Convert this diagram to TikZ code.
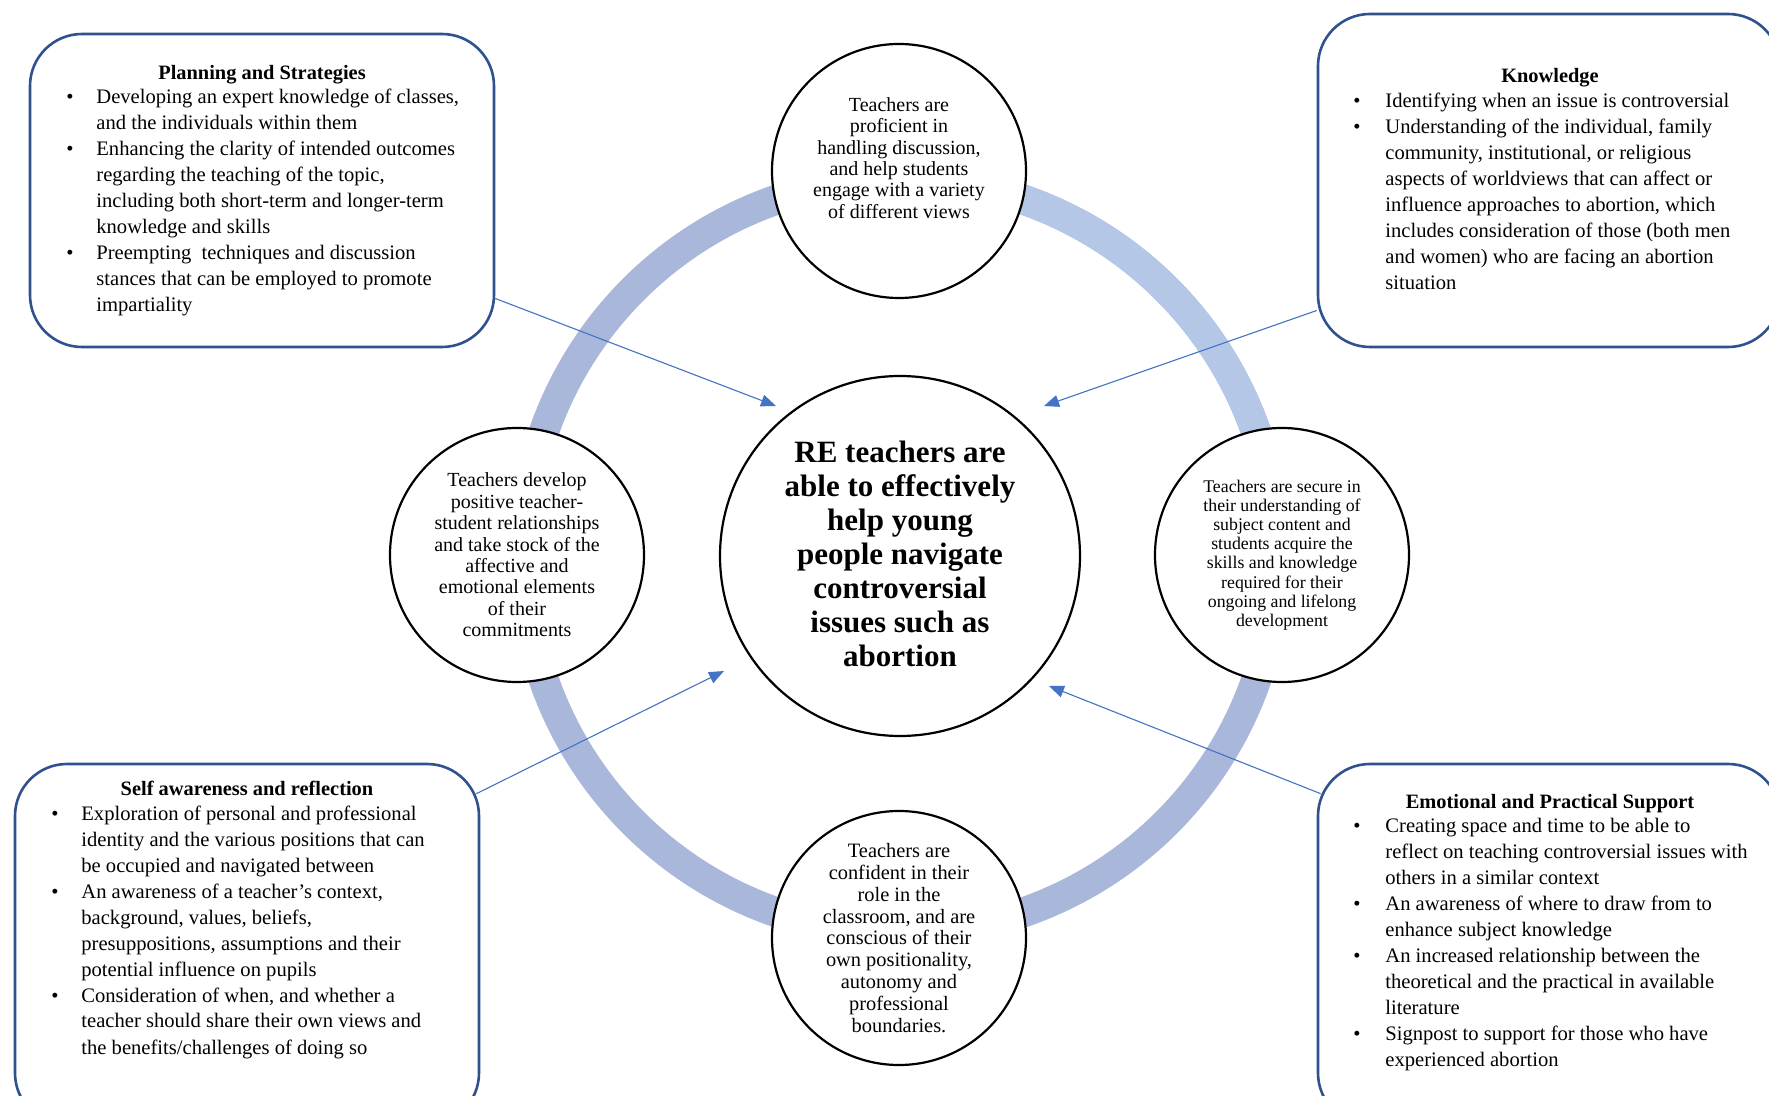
\documentclass[tikz,border=0pt]{standalone}
\usepackage{fontspec}
\setmainfont{Liberation Serif}
\usetikzlibrary{arrows.meta}
\definecolor{ringA}{HTML}{A9B7DB}
\definecolor{ringB}{HTML}{B4C7E7}
\definecolor{boxblue}{HTML}{2F528F}
\definecolor{arrblue}{HTML}{4472C4}
\begin{document}
\begin{tikzpicture}[x=0.5pt,y=-0.5pt,
  box/.style={draw=boxblue, line width=1.3pt, rounded corners=26pt, fill=white, inner sep=0pt},
  circ/.style={circle, draw=black, line width=1.1pt, fill=white, inner sep=0pt, minimum size=127pt},
  ctext/.style={align=center, inner sep=0pt},
  boxtitle/.style={font=\fontsize{10.2}{13}\selectfont\bfseries, inner sep=0pt, anchor=base},
  blist/.style={font=\fontsize{10.3}{13}\selectfont, inner sep=0pt, anchor=base west},
  arr/.style={draw=arrblue, line width=0.55pt, -{Triangle[length=7.5pt,width=6pt]}}
]
\useasboundingbox (0,0) rectangle (1769,1096);
\clip (0,0) rectangle (1769,1096);
\fill[white] (0,0) rectangle (1769,1096);

% ring
\coordinate (ctr) at (900,556);
\draw[ringA, line width=15pt] (ctr) circle[radius=188.5pt];
\draw[ringB, line width=15pt] ([shift={(90:188.5pt)}]ctr) arc[start angle=90, end angle=0, radius=188.5pt];

% boxes
\node[box, minimum width=232pt, minimum height=156.5pt] (plan) at (262,190.5) {};
\node[box, minimum width=231pt, minimum height=166.5pt] (know) at (1549,180.5) {};
\node[box, minimum width=232pt, minimum height=180.5pt] (self) at (247,944.5) {};
\node[box, minimum width=231pt, minimum height=180.5pt] (emo) at (1549,944.5) {};

% box titles
\node[boxtitle] (planT) at (262,80) {Planning and Strategies};
\node[boxtitle] (knowT) at (1550,83) {Knowledge};
\node[boxtitle] (selfT) at (247,795) {Self awareness and reflection};
\node[boxtitle] (emoT) at (1550,808) {Emotional and Practical Support};

% box lists
\node[blist] (planL) at (66,104) {\begin{tabular}[t]{@{}p{15pt}@{}l@{}}
\textbullet & Developing an expert knowledge of classes,\\
 & and the individuals within them\\
\textbullet & Enhancing the clarity of intended outcomes\\
 & regarding the teaching of the topic,\\
 & including both short-term and longer-term\\
 & knowledge and skills\\
\textbullet & Preempting\ \ techniques and discussion\\
 & stances that can be employed to promote\\
 & impartiality
\end{tabular}};

\node[blist] (knowL) at (1353,108) {\begin{tabular}[t]{@{}p{16pt}@{}l@{}}
\textbullet & Identifying when an issue is controversial\\
\textbullet & Understanding of the individual, family\\
 & community, institutional, or religious\\
 & aspects of worldviews that can affect or\\
 & influence approaches to abortion, which\\
 & includes consideration of those (both men\\
 & and women) who are facing an abortion\\
 & situation
\end{tabular}};

\node[blist] (selfL) at (51,820) {\begin{tabular}[t]{@{}p{15pt}@{}l@{}}
\textbullet & Exploration of personal and professional\\
 & identity and the various positions that can\\
 & be occupied and navigated between\\
\textbullet & An awareness of a teacher’s context,\\
 & background, values, beliefs,\\
 & presuppositions, assumptions and their\\
 & potential influence on pupils\\
\textbullet & Consideration of when, and whether a\\
 & teacher should share their own views and\\
 & the benefits/challenges of doing so
\end{tabular}};

\node[blist] (emoL) at (1353,833) {\begin{tabular}[t]{@{}p{16pt}@{}l@{}}
\textbullet & Creating space and time to be able to\\
 & reflect on teaching controversial issues with\\
 & others in a similar context\\
\textbullet & An awareness of where to draw from to\\
 & enhance subject knowledge\\
\textbullet & An increased relationship between the\\
 & theoretical and the practical in available\\
 & literature\\
\textbullet & Signpost to support for those who have\\
 & experienced abortion
\end{tabular}};

% circles
\node[circ] (topc) at (899,171) {};
\node[circ] (leftc) at (517,555) {};
\node[circ] (rightc) at (1282,555) {};
\node[circ] (botc) at (899,938) {};
\node[circ, minimum size=180pt] (centc) at (900,556) {};

\node[ctext, font=\fontsize{10}{10.7}\selectfont] (topt) at (899,158) {Teachers are\\proficient in\\handling discussion,\\and help students\\engage with a variety\\of different views};
\node[ctext, font=\fontsize{10}{10.7}\selectfont] (leftt) at (517,555) {Teachers develop\\positive teacher-\\student relationships\\and take stock of the\\affective and\\emotional elements\\of their\\commitments};
\node[ctext, font=\fontsize{8.9}{9.6}\selectfont] (rightt) at (1282,555) {Teachers are secure in\\their understanding of\\subject content and\\students acquire the\\skills and knowledge\\required for their\\ongoing and lifelong\\development};
\node[ctext, font=\fontsize{10.2}{10.9}\selectfont] (bott) at (899,938) {Teachers are\\confident in their\\role in the\\classroom, and are\\conscious of their\\own positionality,\\autonomy and\\professional\\boundaries.};
\node[ctext, font=\fontsize{15.5}{17}\selectfont\bfseries] (centt) at (900,554) {RE teachers are\\able to effectively\\help young\\people navigate\\controversial\\issues such as\\abortion};

% arrows
\coordinate (tipA) at (776,406);
\coordinate (tipB) at (1044,406);
\coordinate (tipC) at (724,671);
\coordinate (tipD) at (1049,686);
\draw[arr] ([yshift=-54pt]plan.east) -- (tipA);
\draw[arr] ([yshift=-65pt]know.west) -- (tipB);
\draw[arr] ([xshift=-2pt,yshift=-15.5pt]self.north east) -- (tipC);
\draw[arr] ([xshift=2pt,yshift=-15.5pt]emo.north west) -- (tipD);
\end{tikzpicture}
\end{document}
